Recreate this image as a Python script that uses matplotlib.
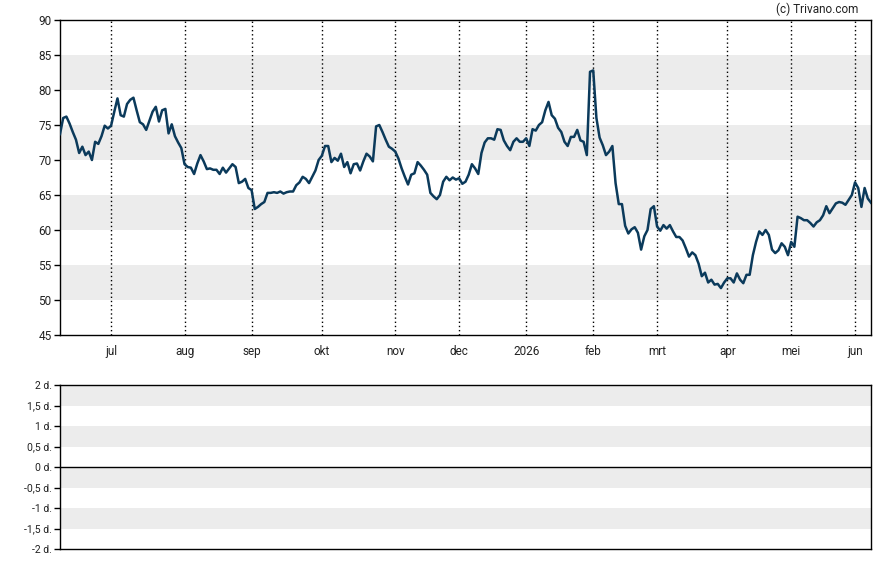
import matplotlib
matplotlib.use('Agg')
import matplotlib.pyplot as plt
import numpy as np
import pandas as pd

plt.rcParams['font.family'] = ['Roboto', 'DejaVu Sans']

# trading days (Euronext calendar)
holidays = ['2025-12-25', '2025-12-26', '2026-01-01', '2026-04-03', '2026-04-06', '2026-05-01']
dates = pd.bdate_range('2025-06-09', '2026-06-08')
dates = dates[~dates.isin(pd.to_datetime(holidays))]

prices = [
    73.7, 76.0, 76.2, 75.2, 74.0, 72.9, 71.0, 71.9, 70.7, 71.2,
    70.0, 72.6, 72.3, 73.4, 74.9, 74.5, 74.9, 76.9, 78.8, 76.4,
    76.2, 78.0, 78.6, 78.9, 77.1, 75.4, 75.1, 74.3, 75.6, 76.9,
    77.6, 75.5, 77.1, 77.3, 73.8, 75.1, 73.4, 72.5, 71.7, 69.4,
    69.0, 68.9, 68.0, 69.5, 70.7, 69.8, 68.7, 68.8, 68.6, 68.6,
    68.0, 68.9, 68.2, 68.8, 69.4, 69.0, 66.7, 66.9, 67.3, 66.0,
    65.7, 63.0, 63.3, 63.7, 64.0, 65.3, 65.3, 65.4, 65.3, 65.5,
    65.2, 65.4, 65.5, 65.5, 66.4, 66.8, 67.6, 67.3, 66.7, 67.6,
    68.5, 70.0, 70.6, 72.0, 72.0, 69.7, 70.3, 69.9, 70.9, 69.0,
    69.7, 68.1, 69.4, 69.5, 68.5, 69.8, 70.9, 70.5, 69.8, 74.8,
    75.0, 74.0, 72.9, 71.9, 71.6, 71.2, 70.2, 68.8, 67.6, 66.5,
    67.9, 68.1, 69.7, 69.2, 68.6, 67.9, 65.3, 64.8, 64.4, 65.0,
    66.9, 67.6, 67.1, 67.5, 67.2, 67.4, 66.6, 66.9, 67.9, 69.4,
    68.8, 68.0, 71.0, 72.5, 73.1, 73.1, 72.9, 74.4, 74.3, 72.8,
    72.0, 71.4, 72.6, 73.1, 72.6, 72.6, 73.1, 72.0, 74.4, 74.2,
    75.0, 75.4, 77.1, 78.3, 76.4, 75.9, 74.6, 74.0, 72.6, 72.0,
    73.3, 73.3, 74.3, 72.8, 72.6, 70.7, 82.6, 82.8, 76.0, 73.2,
    72.1, 70.7, 71.2, 72.0, 66.7, 63.7, 63.7, 60.6, 59.5, 60.1,
    60.4, 59.6, 57.2, 59.1, 60.0, 63.0, 63.4, 60.5, 59.9, 60.7,
    60.2, 60.7, 59.8, 59.0, 59.0, 58.5, 57.4, 56.2, 56.8, 56.4,
    55.2, 53.4, 53.9, 52.5, 52.9, 52.2, 52.3, 51.7, 52.5, 53.1,
    53.1, 52.5, 53.8, 52.9, 52.4, 53.6, 53.6, 56.4, 58.3, 59.8,
    59.3, 60.0, 59.3, 57.2, 56.7, 57.1, 58.1, 57.6, 56.4, 58.3,
    57.6, 61.9, 61.7, 61.4, 61.4, 61.0, 60.5, 61.1, 61.4, 62.1,
    63.4, 62.4, 63.1, 63.8, 64.0, 63.9, 63.6, 64.3, 65.0, 66.8,
    66.0, 63.3, 66.0, 64.5, 63.9,
]

month_names = ['jan', 'feb', 'mrt', 'apr', 'mei', 'jun', 'jul', 'aug', 'sep', 'okt', 'nov', 'dec']
price_bands = [(50, 55), (60, 65), (70, 75), (80, 85)]
price_ticks = list(range(45, 91, 5))
lower_bands = [(-1.5, -1.0), (-0.5, 0.0), (0.5, 1.0), (1.5, 2.0)]
lower_ticks = [-2, -1.5, -1, -0.5, 0, 0.5, 1, 1.5, 2]

x = np.arange(len(dates))

# first trading day of each month
month_pos = []
month_lab = []
for i in range(1, len(dates)):
    if dates[i].month != dates[i - 1].month:
        month_pos.append(i)
        if dates[i].month == 1:
            month_lab.append(str(dates[i].year))
        else:
            month_lab.append(month_names[dates[i].month - 1])

W, H = 888, 565
fig = plt.figure(figsize=(W / 100, H / 100), dpi=100)
ax = fig.add_axes([60 / W, 1 - 335 / H, 811 / W, 315 / H])
ax2 = fig.add_axes([60 / W, 1 - 549 / H, 811 / W, 164 / H])

band_col = '#ececec'
txt_col = '#222222'

# price panel
for lo, hi in price_bands:
    ax.axhspan(lo, hi, color=band_col, lw=0, zorder=0)
for p in month_pos:
    ax.axvline(p, color='black', lw=1, ls=(0, (1, 2)), zorder=1)
ax.plot(x, prices, color='#0b3a5b', lw=1.8, zorder=3, solid_joinstyle='round')
ax.set_xlim(0, len(dates) - 1)
ax.set_ylim(45, 90)
ax.set_yticks(price_ticks)
ax.set_xticks(month_pos)
ax.set_xticklabels(month_lab)
ax.tick_params(axis='y', length=4, width=1, labelsize=8.5, colors='black', labelcolor=txt_col, pad=2)
ax.tick_params(axis='x', length=0, labelsize=8.5, labelcolor=txt_col, pad=7)
for s in ax.spines.values():
    s.set_linewidth(1)

fig.text(858 / W, 1 - 9 / H, '(c) Trivano.com', ha='right', va='center', fontsize=8.5, color=txt_col)

# lower panel
for lo, hi in lower_bands:
    ax2.axhspan(lo, hi, color=band_col, lw=0, zorder=0)
ax2.axhline(0, color='black', lw=1, zorder=2)
ax2.set_xlim(0, len(dates) - 1)
ax2.set_ylim(-2, 2)
ax2.set_yticks(lower_ticks)
ax2.set_yticklabels([('%g d.' % v).replace('.', ',', 1) if v != int(v) else '%d d.' % v for v in lower_ticks])
ax2.set_xticks([])
ax2.tick_params(axis='y', length=4, width=1, labelsize=7.5, labelcolor=txt_col, pad=2)
for s in ax2.spines.values():
    s.set_linewidth(1)

fig.savefig('out.png', dpi=100)
